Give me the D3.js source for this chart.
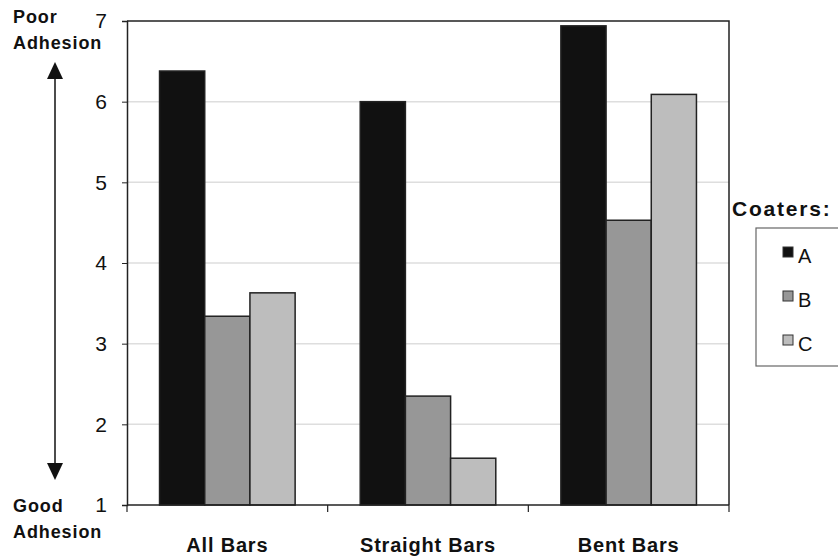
<!DOCTYPE html>
<html>
<head>
<meta charset="utf-8">
<script src="https://cdn.jsdelivr.net/npm/d3@7"></script>
<style>
  body { margin: 0; background: #fff; }
  svg { display: block; font-family: Arial, "Liberation Sans", sans-serif; }
</style>
</head>
<body>
<svg id="chart" width="838" height="556"></svg>
<script>
// Adhesion ratings by bar type for each coater
const categories = ["All Bars", "Straight Bars", "Bent Bars"];
const seriesNames = ["A", "B", "C"];
const valuesA = [6.38, 6.0, 6.94];
const valuesB = [3.34, 2.35, 4.53];
const valuesC = [3.63, 1.58, 6.09];
const yTicks = [1, 2, 3, 4, 5, 6, 7];
const colors = { A: "#111111", B: "#979797", C: "#bdbdbd" };

const seriesValues = { A: valuesA, B: valuesB, C: valuesC };
const rows = categories.map((c, i) => ({
  category: c,
  values: seriesNames.map(s => ({ key: s, value: seriesValues[s][i] }))
}));

const svg = d3.select("#chart");
const plot = { left: 127, right: 729, top: 21, bottom: 505 };

const x0 = d3.scaleBand().domain(categories).range([plot.left, plot.right]).padding(0);
const x1 = d3.scaleBand().domain(seriesNames).range([0, x0.bandwidth()])
  .paddingInner(0).paddingOuter(0.72);
const y = d3.scaleLinear().domain([1, 7]).range([plot.bottom, plot.top]);

// gridlines
svg.append("g").selectAll("line").data(yTicks.filter(t => t > 1 && t < 7)).join("line")
  .attr("x1", plot.left).attr("x2", plot.right)
  .attr("y1", d => y(d)).attr("y2", d => y(d))
  .attr("stroke", "#dedede").attr("stroke-width", 1.5);

// bars
const groups = svg.append("g").selectAll("g").data(rows).join("g")
  .attr("transform", d => `translate(${x0(d.category)},0)`);
groups.selectAll("rect").data(d => d.values).join("rect")
  .attr("x", d => x1(d.key))
  .attr("y", d => y(d.value))
  .attr("width", x1.bandwidth())
  .attr("height", d => y(1) - y(d.value))
  .attr("fill", d => colors[d.key])
  .attr("stroke", "#222")
  .attr("stroke-width", 1.5);

// plot frame (top and right)
svg.append("path")
  .attr("d", `M${plot.left},${plot.top}H${plot.right}V${plot.bottom}`)
  .attr("fill", "none").attr("stroke", "#222").attr("stroke-width", 1.5);

// y axis
const yAxis = svg.append("g").attr("transform", `translate(${plot.left},0)`)
  .call(d3.axisLeft(y).tickValues(yTicks).tickSize(5).tickPadding(15).tickFormat(d3.format("d")));
yAxis.select(".domain").attr("stroke", "#222").attr("stroke-width", 1.5);
yAxis.selectAll(".tick line").attr("stroke", "#222");
yAxis.selectAll("text").attr("font-size", 21).attr("fill", "#111")
  .attr("font-family", "Arial, 'Liberation Sans', sans-serif");

// x axis with tick marks at category boundaries
const xAxisG = svg.append("g").attr("transform", `translate(0,${plot.bottom})`);
xAxisG.append("line").attr("x1", plot.left).attr("x2", plot.right)
  .attr("stroke", "#222").attr("stroke-width", 1.5);
const bounds = categories.map(c => x0(c)).concat([x0(categories[categories.length - 1]) + x0.bandwidth()]);
xAxisG.selectAll("line.tk").data(bounds).join("line").attr("class", "tk")
  .attr("x1", d => d).attr("x2", d => d).attr("y1", 0).attr("y2", 7)
  .attr("stroke", "#222").attr("stroke-width", 1.2);
xAxisG.selectAll("text").data(categories).join("text")
  .attr("x", d => x0(d) + x0.bandwidth() / 2)
  .attr("y", 47)
  .attr("text-anchor", "middle")
  .attr("font-size", 20).attr("font-weight", "bold").attr("fill", "#111")
  .attr("letter-spacing", 0.8)
  .text(d => d);

// adhesion annotation on the left
const ann = svg.append("g").attr("font-size", 18).attr("font-weight", "bold")
  .attr("fill", "#111").attr("letter-spacing", 0.9);
ann.append("text").attr("x", 13).attr("y", 23).text("Poor");
ann.append("text").attr("x", 13).attr("y", 49).text("Adhesion");
ann.append("text").attr("x", 13).attr("y", 512).text("Good");
ann.append("text").attr("x", 13).attr("y", 538).text("Adhesion");

const arrowX = 55;
svg.append("line").attr("x1", arrowX).attr("x2", arrowX).attr("y1", 75).attr("y2", 466)
  .attr("stroke", "#111").attr("stroke-width", 1.5);
svg.append("path")
  .attr("d", `M${arrowX},62L${arrowX - 8},79L${arrowX + 8},79Z`).attr("fill", "#111");
svg.append("path")
  .attr("d", `M${arrowX},480L${arrowX - 8},463L${arrowX + 8},463Z`).attr("fill", "#111");

// legend
svg.append("text").attr("x", 732).attr("y", 216)
  .attr("font-size", 21).attr("font-weight", "bold").attr("fill", "#111")
  .attr("letter-spacing", 1.8).text("Coaters:");
svg.append("rect").attr("x", 756).attr("y", 228).attr("width", 100).attr("height", 138)
  .attr("fill", "#fff").attr("stroke", "#666").attr("stroke-width", 1.2);
const legendItems = svg.append("g").selectAll("g").data(seriesNames).join("g")
  .attr("transform", (d, i) => `translate(783,${247 + i * 44})`);
legendItems.append("rect").attr("width", 10).attr("height", 10)
  .attr("fill", d => colors[d]).attr("stroke", "#333").attr("stroke-width", 1);
legendItems.append("text").attr("x", 15).attr("y", 16)
  .attr("font-size", 20).attr("fill", "#111").text(d => d);
</script>
</body>
</html>
